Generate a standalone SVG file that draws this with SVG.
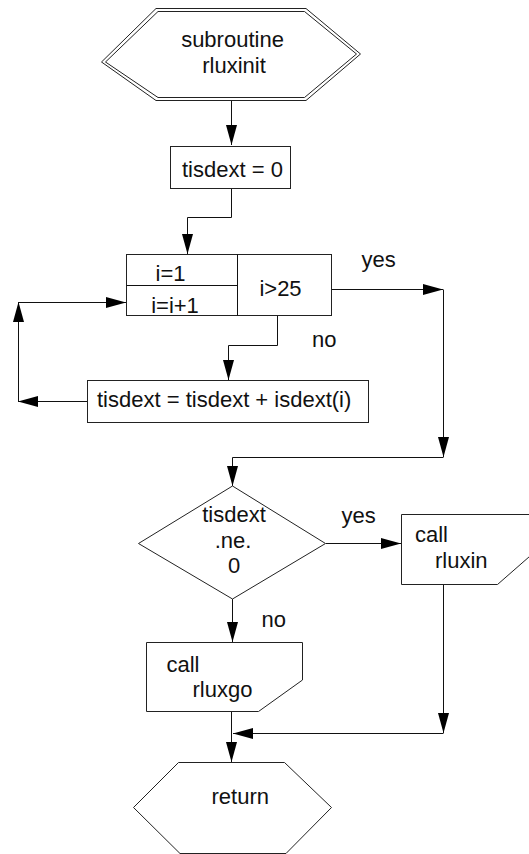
<svg xmlns="http://www.w3.org/2000/svg" width="529" height="854" viewBox="0 0 529 854">
<defs>
<style>
.shape{fill:#fff;stroke:#222;stroke-width:1}
.line{fill:none;stroke:#111;stroke-width:1}
.arr{marker-end:url(#ah)}
text{font-family:"Liberation Sans",Arial,sans-serif;font-size:22px;fill:#111}
.c{text-anchor:middle}
</style>
<marker id="ah" markerUnits="userSpaceOnUse" markerWidth="21" markerHeight="12" refX="20" refY="5.5" orient="auto">
<path d="M0,0 L20,5.5 L0,11 z" fill="#000"/>
</marker>
</defs>
<rect width="529" height="854" fill="#fff"/>
<g id="connectors">
<path class="line arr" d="M231.5,100.5 V145"/>
<path class="line arr" d="M231.5,189 V217.5 H187.5 V254"/>
<path class="line arr" d="M332,289.5 H443"/>
<path class="line arr" d="M443.5,289.5 V457"/>
<path class="line arr" d="M443.5,457.5 H232.5 V486"/>
<path class="line arr" d="M277.5,316 V345.5 H228.5 V380"/>
<path class="line arr" d="M87,401.5 H18"/>
<path class="line arr" d="M18.5,401.5 V302"/>
<path class="line arr" d="M18.5,302.5 H126"/>
<path class="line arr" d="M326,543.5 H401"/>
<path class="line arr" d="M232.5,599 V642"/>
<path class="line arr" d="M443.5,584 V733"/>
<path class="line arr" d="M443.5,733.5 H233"/>
<path class="line arr" d="M231.5,711 V762"/>
</g>
<g id="start">
<polygon class="shape" points="156,8.5 306,8.5 360.5,54 306,100.5 156,100.5 101.5,62"/>
<polygon class="shape" points="158,11.5 304.5,11.5 356.5,54 304.5,97.5 158,97.5 105.5,62"/>
<text x="232.5" y="47" class="c">subroutine</text>
<text x="234" y="73" class="c">rluxinit</text>
</g>
<g id="init">
<rect class="shape" x="170.5" y="146.5" width="120" height="42"/>
<text x="182" y="177">tisdext = 0</text>
</g>
<g id="loop">
<rect class="shape" x="126.5" y="254.5" width="205" height="61"/>
<path class="line" d="M237.5,254.5 V315.5 M126.5,285.5 H237.5"/>
<text x="170.5" y="281" class="c">i=1</text>
<text x="175" y="313" class="c">i=i+1</text>
<text x="280.5" y="296" class="c">i&gt;25</text>
</g>
<text x="361.5" y="267">yes</text>
<text x="312" y="347">no</text>
<g id="sum">
<rect class="shape" x="87.5" y="380.5" width="281" height="42"/>
<text x="97" y="407">tisdext = tisdext + isdext(i)</text>
</g>
<g id="decision">
<polygon class="shape" points="232.5,486 325.5,543.5 232.5,599 138.5,543.5"/>
<text x="234" y="522" class="c">tisdext</text>
<text x="233" y="548" class="c">.ne.</text>
<text x="234" y="573" class="c">0</text>
</g>
<text x="341.5" y="523">yes</text>
<text x="261.5" y="627">no</text>
<g id="rluxin">
<polygon class="shape" points="401.5,514.5 541.5,514.5 541.5,546 497.5,584.5 401.5,584.5"/>
<text x="415" y="541.5">call</text>
<text x="435" y="567.5">rluxin</text>
</g>
<g id="rluxgo">
<polygon class="shape" points="146.5,642.5 302.5,642.5 302.5,680 258.5,711.5 146.5,711.5"/>
<text x="166.5" y="672">call</text>
<text x="192.5" y="697">rluxgo</text>
</g>
<g id="return">
<polygon class="shape" points="178.5,762.5 284.5,762.5 331.5,807.5 286,853.5 180,853.5 133.5,807.5"/>
<text x="211.5" y="804">return</text>
</g>
</svg>
